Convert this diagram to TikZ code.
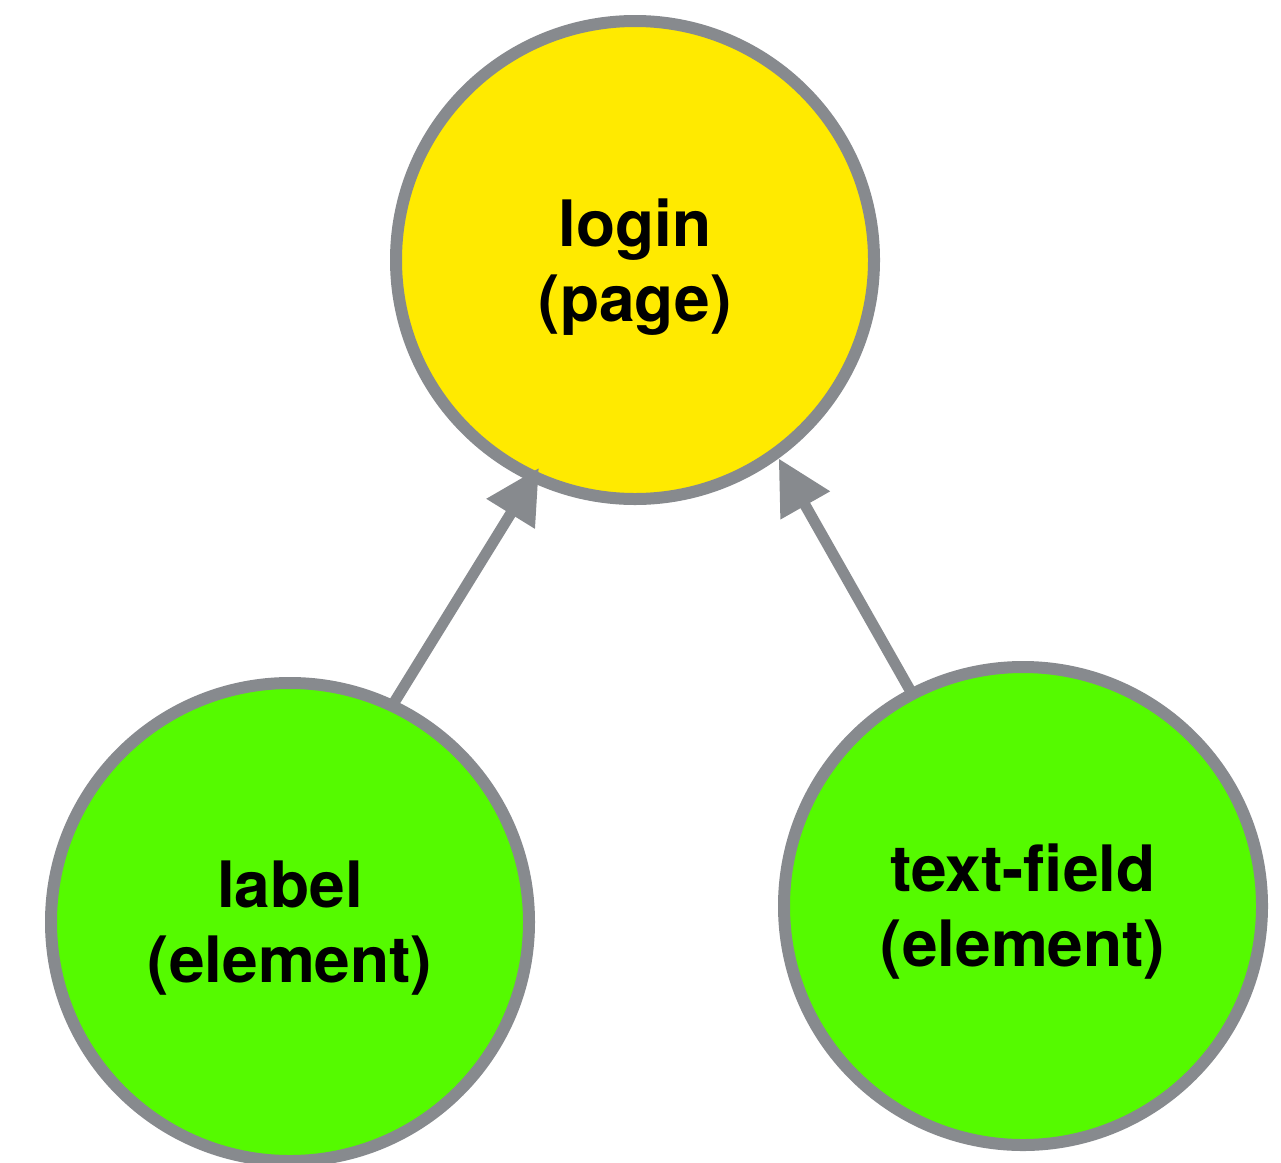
\documentclass[tikz,border=0pt]{standalone}
\usepackage{fontspec}
\setmainfont{TeX Gyre Heros}
\usetikzlibrary{arrows.meta,calc}
\definecolor{ringgray}{HTML}{878A8E}
\definecolor{pageyellow}{HTML}{FFEA00}
\definecolor{elemgreen}{HTML}{55FA00}
\begin{document}
\begin{tikzpicture}[x=1pt,y=-1pt,
  vertex/.style={circle, draw=ringgray, line width=12pt, minimum size=478pt,
    inner sep=0pt},
  pagenode/.style={vertex, fill=pageyellow},
  elemnode/.style={vertex, fill=elemgreen},
  caption/.style={align=center, text=black, inner sep=0pt,
    font=\bfseries\fontsize{64}{75}\selectfont},
  link/.style={draw=ringgray, line width=11pt,
    -{Triangle[length=54pt,width=54pt]}}]
\useasboundingbox (0,0) rectangle (1281,1162);

% circles
\node[pagenode] (login) at (635,260) {};
\node[elemnode] (label) at (290,922) {};
\node[elemnode] (textfield) at (1023,906) {};

% captions, set a little below each circle's centre
\node[caption] (logintext) at ($(login.center)+(0,7)$) {login\\(page)};
\node[caption] (labeltext) at ($(label.center)+(0,6)$) {label\\(element)};
\node[caption] (textfieldtext) at ($(textfield.center)+(0,6)$) {text-field\\(element)};

% dependencies
\draw[link] ($(label.center)+(64.7:240pt)$) -- ($(login.center)+(245.2:229pt)$);
\draw[link] ($(textfield.center)+(117.6:240pt)$) -- ($(login.center)+(-54.1:245pt)$);
\end{tikzpicture}
\end{document}
